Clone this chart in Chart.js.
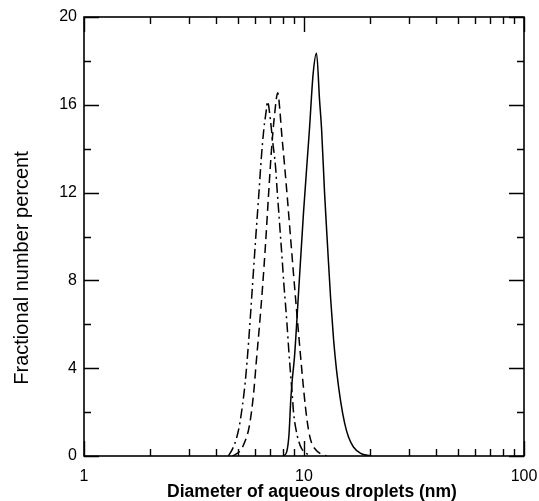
<!DOCTYPE html>
<html>
<head>
<meta charset="utf-8">
<script src="https://cdn.jsdelivr.net/npm/chart.js@4.4.1/dist/chart.umd.min.js"></script>
<style>
    html, body { margin: 0; padding: 0; background: #fff; }
    #wrap { position: relative; width: 539px; height: 501px; }
</style>
</head>
<body>
<div id="wrap"><canvas id="chart" width="539" height="501"></canvas></div>
<script>
// droplet size distributions (diameter nm, fractional number %)
var SOLID_X = [8.07, 8.35, 8.55, 8.70, 8.85, 9.05, 9.44, 9.95, 10.59, 11.0, 11.40, 11.77, 12.02, 12.40, 12.79, 13.21, 13.63, 14.06, 14.67, 15.30, 15.95, 16.81, 18.09, 20.1];
var SOLID_Y = [0, 0.2, 1.0, 2.5, 3.5, 4.5, 7.4, 11.1, 14.9, 17.4, 18.35, 16.2, 14.9, 12.0, 9.6, 7.2, 5.3, 3.9, 2.5, 1.5, 0.85, 0.4, 0.12, 0];

var DASH_X = [4.72, 4.93, 5.14, 5.36, 5.60, 5.77, 5.92, 6.07, 6.27, 6.47, 6.68, 6.89, 7.11, 7.34, 7.60, 7.76, 7.90, 8.15, 8.41, 8.68, 8.96, 9.24, 9.54, 9.84, 10.16, 10.48, 10.82, 11.28, 11.89, 12.66];
var DASH_Y = [0, 0.1, 0.25, 0.6, 1.2, 2.0, 3.0, 4.3, 5.9, 7.6, 9.6, 11.8, 13.9, 15.5, 16.55, 15.8, 14.8, 13.3, 11.7, 10.0, 8.3, 6.7, 5.1, 3.6, 2.2, 1.2, 0.6, 0.3, 0.1, 0];

var DASHDOT_X = [4.53, 4.72, 4.93, 5.09, 5.25, 5.41, 5.60, 5.80, 6.01, 6.22, 6.40, 6.57, 6.75, 6.82, 7.04, 7.19, 7.42, 7.55, 7.68, 7.82, 7.96, 8.09, 8.24, 8.37, 8.53, 8.68, 8.84, 8.98, 9.20, 9.44, 9.74, 10.16, 10.71];
var DASHDOT_Y = [0, 0.3, 0.8, 1.4, 2.3, 3.4, 5.2, 7.4, 9.7, 11.8, 13.6, 14.9, 15.8, 16.15, 15.3, 14.4, 13.2, 12.1, 11.1, 10.0, 8.95, 7.9, 6.9, 6.0, 4.8, 3.8, 2.8, 1.9, 1.2, 0.7, 0.35, 0.15, 0];

var X_LABELS = [1, 10, 100];
var X_MINOR = [2, 3, 4, 5, 6, 7, 8, 9, 20, 30, 40, 50, 60, 70, 80, 90];
var Y_MAJOR = [0, 4, 8, 12, 16, 20];
var Y_MINOR = [2, 6, 10, 14, 18];

var X_TITLE = 'Diameter of aqueous droplets (nm)';
var Y_TITLE = 'Fractional number percent';

(function () {
    'use strict';

    var FONT = 'Liberation Sans, Arial, sans-serif';

    function toPoints(xs, ys) {
        var pts = [];
        for (var i = 0; i < xs.length; i++) {
            pts.push({ x: xs[i], y: ys[i] });
        }
        return pts;
    }

    // frame, inward ticks on all four sides, and the two axis titles
    var framePlugin = {
        id: 'frameTicks',
        afterDatasetsDraw: function (chart) {
            var ctx = chart.ctx;
            var a = chart.chartArea;
            var xs = chart.scales.x;
            var ys = chart.scales.y;
            var i, p;
            ctx.save();
            ctx.strokeStyle = '#000';
            ctx.lineWidth = 1.6;
            ctx.strokeRect(a.left, a.top, a.right - a.left, a.bottom - a.top);

            ctx.lineWidth = 1.4;
            ctx.beginPath();
            function xTick(v, len) {
                p = Math.round(xs.getPixelForValue(v)) + 0.5;
                ctx.moveTo(p, a.bottom); ctx.lineTo(p, a.bottom - len);
                ctx.moveTo(p, a.top); ctx.lineTo(p, a.top + len);
            }
            function yTick(v, len) {
                p = Math.round(ys.getPixelForValue(v)) + 0.5;
                ctx.moveTo(a.left, p); ctx.lineTo(a.left + len, p);
                ctx.moveTo(a.right, p); ctx.lineTo(a.right - len, p);
            }
            for (i = 0; i < X_LABELS.length; i++) { xTick(X_LABELS[i], 15); }
            for (i = 0; i < X_MINOR.length; i++) { xTick(X_MINOR[i], 7); }
            for (i = 0; i < Y_MAJOR.length; i++) { yTick(Y_MAJOR[i], 15); }
            for (i = 0; i < Y_MINOR.length; i++) { yTick(Y_MINOR[i], 7); }
            ctx.stroke();

            // titles sit a little off-centre in the original
            ctx.fillStyle = '#000';
            ctx.textAlign = 'center';
            ctx.textBaseline = 'middle';
            ctx.font = 'bold 17.5px ' + FONT;
            ctx.fillText(X_TITLE, 312, 492);

            ctx.translate(22, 268);
            ctx.rotate(-Math.PI / 2);
            ctx.font = '20px ' + FONT;
            ctx.fillText(Y_TITLE, 0, 0);
            ctx.restore();
        }
    };

    function series(label, xs, ys, dash) {
        return {
            label: label,
            data: toPoints(xs, ys),
            borderColor: '#000',
            borderWidth: 1.5,
            borderDash: dash,
            pointRadius: 0,
            fill: false,
            cubicInterpolationMode: 'monotone'
        };
    }

    new Chart(document.getElementById('chart'), {
        type: 'line',
        data: {
            datasets: [
                series('solid', SOLID_X, SOLID_Y, []),
                series('dashed', DASH_X, DASH_Y, [9, 5]),
                series('dash-dot', DASHDOT_X, DASHDOT_Y, [10, 4, 2, 4])
            ]
        },
        options: {
            responsive: false,
            animation: false,
            events: [],
            layout: { padding: { top: 17, right: 15, bottom: 0, left: 0 } },
            plugins: {
                legend: { display: false },
                tooltip: { enabled: false }
            },
            scales: {
                x: {
                    type: 'logarithmic',
                    min: 1,
                    max: 100,
                    afterFit: function (s) {
                        s.height = 45;
                        s.paddingLeft = 0;
                        s.paddingRight = 0;
                    },
                    grid: { display: false, drawTicks: false },
                    border: { display: false },
                    ticks: {
                        autoSkip: false,
                        maxRotation: 0,
                        padding: 11,
                        color: '#000',
                        font: { family: FONT, size: 16 },
                        callback: function (v) {
                            return X_LABELS.indexOf(v) !== -1 ? String(v) : '';
                        }
                    }
                },
                y: {
                    min: 0,
                    max: 20,
                    afterFit: function (s) {
                        s.width = 84;
                        s.paddingTop = 0;
                        s.paddingBottom = 0;
                    },
                    afterBuildTicks: function (s) {
                        s.ticks = Y_MAJOR.map(function (v) { return { value: v }; });
                    },
                    grid: { display: false, drawTicks: false },
                    border: { display: false },
                    ticks: {
                        padding: 7,
                        color: '#000',
                        font: { family: FONT, size: 16 }
                    }
                }
            }
        },
        plugins: [framePlugin]
    });
})();
</script>
</body>
</html>
